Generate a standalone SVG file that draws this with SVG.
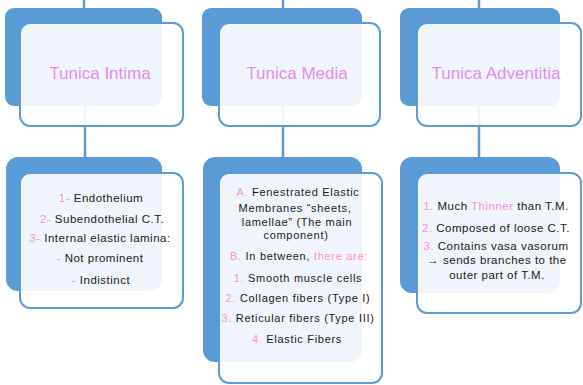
<svg xmlns="http://www.w3.org/2000/svg" width="583" height="385" viewBox="0 0 583 385">
<style>
.conn{stroke:#5B9BD5;stroke-width:2.5;fill:none}
.back{fill:#5B9BD5}
.front{fill:#FFFFFF;fill-opacity:0.9;stroke:#5B9BD5;stroke-width:2}
.title{font-family:"Liberation Sans",Arial,sans-serif;font-size:17px;fill:#E48BF5;text-anchor:middle}
.body{font-family:"Liberation Sans",Arial,sans-serif;font-size:11.5px;fill:#1a1a1a;text-anchor:middle;letter-spacing:0.5px}
.body2{font-family:"Liberation Sans",Arial,sans-serif;font-size:11px;fill:#1a1a1a;text-anchor:middle;letter-spacing:0.7px}
.pk{fill:#FF8ED4}
</style>
<rect width="583" height="385" fill="#FFFFFF"/>
<g id="connectors">
<line class="conn" x1="84" y1="0" x2="84" y2="9"/>
<line class="conn" x1="85" y1="105" x2="85" y2="158"/>
<line class="conn" x1="283" y1="0" x2="283" y2="9"/>
<line class="conn" x1="283" y1="105" x2="283" y2="158"/>
<line class="conn" x1="479" y1="0" x2="479" y2="9"/>
<line class="conn" x1="479" y1="105" x2="479" y2="158"/>
</g>
<g id="intima">
<rect class="back" x="5" y="8" width="157" height="98" rx="9"/>
<rect class="front" x="20" y="23" width="163" height="103" rx="10"/>
<text class="title" x="100" y="79">Tunica Intima</text>
</g>
<g id="media">
<rect class="back" x="202" y="8" width="160" height="98" rx="9"/>
<rect class="front" x="219" y="23" width="161" height="103" rx="10"/>
<text class="title" x="297" y="79">Tunica Media</text>
</g>
<g id="adventitia">
<rect class="back" x="400" y="8" width="160" height="98" rx="9"/>
<rect class="front" x="417" y="23" width="164" height="103" rx="10"/>
<text class="title" x="496" y="79">Tunica Adventitia</text>
</g>
<g id="intima-details">
<rect class="back" x="6" y="157" width="156" height="134" rx="12"/>
<rect class="front" x="20" y="173" width="163" height="135" rx="10"/>
<text class="body" x="101" y="202"><tspan class="pk">1- </tspan>Endothelium</text>
<text class="body" x="102" y="223"><tspan class="pk">2- </tspan>Subendothelial C.T.</text>
<text class="body" x="100" y="242"><tspan class="pk">3- </tspan>Internal elastic lamina:</text>
<text class="body" x="100" y="262"><tspan class="pk">- </tspan>Not prominent</text>
<text class="body" x="101" y="284"><tspan class="pk">- </tspan>Indistinct</text>
</g>
<g id="media-details">
<rect class="back" x="203" y="157" width="159" height="205" rx="12"/>
<rect class="front" x="219" y="173" width="163" height="210" rx="10"/>
<text class="body2" x="298" y="196"><tspan class="pk">A. </tspan>Fenestrated  Elastic</text>
<text class="body2" x="295" y="212">Membranes “sheets,</text>
<text class="body2" x="297" y="226">lamellae”  (The main</text>
<text class="body2" x="296" y="239">component)</text>
<text class="body2" x="299" y="260"><tspan class="pk">B. </tspan>In between, <tspan class="pk">there are:</tspan></text>
<text class="body2" x="298" y="282"><tspan class="pk">1. </tspan>Smooth muscle cells</text>
<text class="body2" x="298" y="302"><tspan class="pk">2. </tspan>Collagen  fibers (Type I)</text>
<text class="body2" x="298" y="322"><tspan class="pk">3. </tspan>Reticular fibers (Type III)</text>
<text class="body2" x="297" y="343"><tspan class="pk">4. </tspan>Elastic Fibers</text>
</g>
<g id="adventitia-details">
<rect class="back" x="400" y="157" width="160" height="136" rx="12"/>
<rect class="front" x="417" y="173" width="164" height="140" rx="10"/>
<text class="body" x="496" y="210"><tspan class="pk">1. </tspan>Much <tspan class="pk">Thinner</tspan> than T.M.</text>
<text class="body" x="496" y="232"><tspan class="pk">2. </tspan>Composed of loose C.T.</text>
<text class="body" x="496" y="250"><tspan class="pk">3. </tspan>Contains vasa vasorum</text>
<text class="body" x="497" y="264">→ sends branches to the</text>
<text class="body" x="497" y="279">outer part of T.M.</text>
</g>
</svg>
